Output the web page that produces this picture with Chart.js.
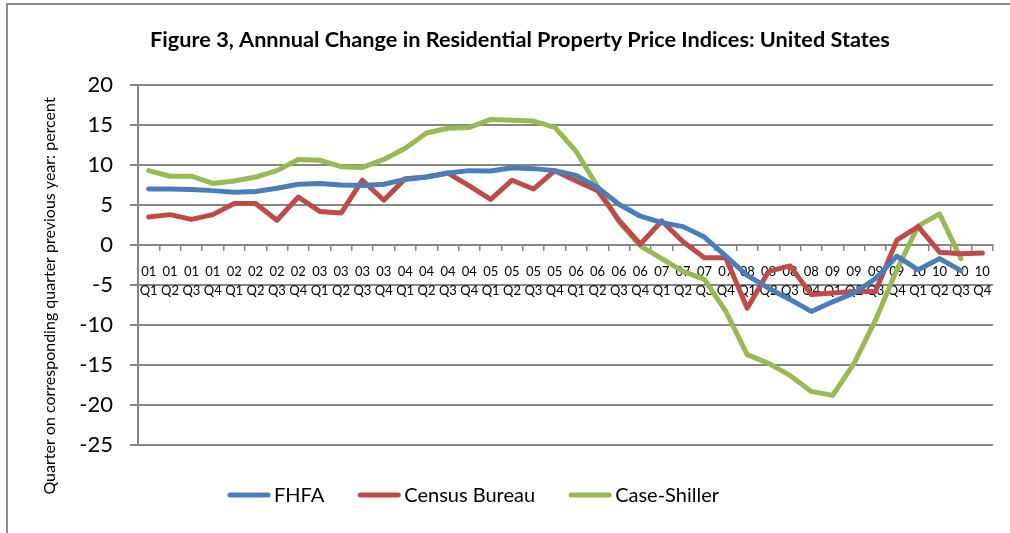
<!DOCTYPE html>
<html>
<head>
<meta charset="utf-8">
<script src="https://cdn.jsdelivr.net/npm/chart.js@4/dist/chart.umd.min.js"></script>
<style>
  html, body { margin: 0; padding: 0; background: #ffffff; }
  #wrap { width: 1010px; height: 533px; position: relative; }
</style>
</head>
<body>
<div id="wrap"><canvas id="c" width="1010" height="533"></canvas></div>
<script>
// ---- data ----
const years = ['01','02','03','04','05','06','07','08','09','10'];
const quarters = ['Q1','Q2','Q3','Q4'];
const categories = years.flatMap(y => quarters.map(q => [y, q]));

const fhfa = [7.0, 7.0, 6.95, 6.8, 6.6, 6.7, 7.1, 7.6, 7.7, 7.5,
              7.45, 7.6, 8.2, 8.5, 9.0, 9.3, 9.25, 9.65, 9.55, 9.3,
              8.7, 7.2, 5.1, 3.6, 2.8, 2.3, 1.0, -1.4, -3.8, -5.4,
              -6.8, -8.3, -7.1, -6.0, -4.2, -1.4, -3.1, -1.7, -3.2, null];
const census = [3.5, 3.8, 3.2, 3.8, 5.2, 5.2, 3.1, 6.0, 4.2, 4.0,
                8.1, 5.6, 8.3, 8.5, 9.0, 7.4, 5.7, 8.1, 7.0, 9.3,
                8.0, 6.8, 3.1, 0.1, 3.0, 0.4, -1.6, -1.6, -7.9, -3.3,
                -2.6, -6.2, -6.0, -5.8, -5.8, 0.6, 2.3, -0.9, -1.1, -1.0];
const caseShiller = [9.3, 8.6, 8.6, 7.7, 8.0, 8.5, 9.3, 10.7, 10.6, 9.8,
                     9.7, 10.7, 12.1, 14.0, 14.6, 14.7, 15.7, 15.6, 15.5, 14.7,
                     11.7, 7.3, 2.9, -0.1, -1.7, -3.3, -4.3, -8.3, -13.7, -14.8,
                     -16.3, -18.3, -18.8, -14.8, -9.4, -3.1, 2.4, 3.9, -1.7, null];
const seriesNames = ['FHFA', 'Census Bureau', 'Case-Shiller'];
const titleText = 'Figure 3, Annnual Change in Residential Property Price Indices: United States';
const yAxisTitle = 'Quarter on corresponding quarter previous year: percent';
const yMin = -25, yMax = 20, yStep = 5;

// ---- styles ----
const colors = ['#4A7EBB', '#BE4B48', '#98B954'];
const gridColor = '#868686';
const FONT = 'Lato, "Open Sans", "Liberation Sans", sans-serif';

const framePlugin = {
  id: 'frame',
  beforeDraw(chart) {
    const ctx = chart.ctx;
    ctx.save();
    ctx.fillStyle = '#ffffff';
    ctx.fillRect(0, 0, chart.width, chart.height);
    ctx.strokeStyle = '#8a8a8a';
    ctx.lineWidth = 2;
    ctx.beginPath();
    ctx.moveTo(7, chart.height + 5);
    ctx.lineTo(7, 4);
    ctx.lineTo(chart.width + 5, 4);
    ctx.stroke();
    ctx.restore();
  }
};

const yTitlePlugin = {
  id: 'yTitle',
  afterDraw(chart) {
    const ctx = chart.ctx;
    ctx.save();
    ctx.translate(50, 296);
    ctx.rotate(-Math.PI / 2);
    ctx.font = '16px ' + FONT;
    ctx.fillStyle = '#000000';
    ctx.textAlign = 'center';
    ctx.textBaseline = 'middle';
    ctx.fillText(yAxisTitle, 0, 0);
    ctx.restore();
  }
};

const legendPlugin = {
  id: 'customLegend',
  afterDraw(chart) {
    const ctx = chart.ctx;
    ctx.save();
    ctx.font = '20px ' + FONT;
    ctx.textBaseline = 'middle';
    ctx.textAlign = 'left';
    let x = 228;
    const y = 495;
    chart.data.datasets.forEach(ds => {
      ctx.strokeStyle = ds.borderColor;
      ctx.lineWidth = 5;
      ctx.lineCap = 'round';
      ctx.beginPath();
      ctx.moveTo(x + 2, y);
      ctx.lineTo(x + 40, y);
      ctx.stroke();
      ctx.fillStyle = '#000000';
      ctx.fillText(ds.label, x + 46, y + 1);
      x += 46 + ctx.measureText(ds.label).width + 34;
    });
    ctx.restore();
  }
};

const values = [fhfa, census, caseShiller];
new Chart(document.getElementById('c'), {
  type: 'line',
  data: {
    labels: categories,
    datasets: values.map((v, i) => ({
      label: seriesNames[i],
      data: v,
      borderColor: colors[i],
      backgroundColor: colors[i],
      borderWidth: 5,
      pointRadius: 0,
      pointHoverRadius: 0,
      tension: 0,
      borderJoinStyle: 'round',
      borderCapStyle: 'round',
      spanGaps: false
    }))
  },
  options: {
    responsive: false,
    animation: false,
    events: [],
    layout: { padding: { left: 47, right: 17, top: 0, bottom: 88 } },
    plugins: {
      legend: { display: false },
      tooltip: { enabled: false },
      title: {
        display: true,
        text: titleText,
        color: '#000000',
        font: { family: FONT, size: 21.7, weight: 'bold', lineHeight: 1.2 },
        padding: { top: 27, bottom: 32 }
      }
    },
    scales: {
      x: {
        type: 'category',
        position: { y: 0 },
        offset: true,
        grid: { offset: true, drawOnChartArea: false, drawTicks: true, tickLength: 5, color: gridColor, lineWidth: 1.5 },
        border: { display: true, color: gridColor, width: 2 },
        ticks: {
          autoSkip: false, maxRotation: 0, minRotation: 0,
          color: '#000000', padding: 13,
          font: { family: FONT, size: 13, lineHeight: 1.4 }
        }
      },
      y: {
        min: yMin, max: yMax,
        grid: { color: gridColor, lineWidth: 2, tickLength: 8, drawTicks: true },
        border: { display: true, color: gridColor, width: 2 },
        ticks: {
          stepSize: yStep, color: '#000000', padding: 17,
          font: { family: FONT, size: 22 }
        },
        afterFit(scale) { scale.width = 91; }
      }
    }
  },
  plugins: [framePlugin, yTitlePlugin, legendPlugin]
});
</script>
</body>
</html>
